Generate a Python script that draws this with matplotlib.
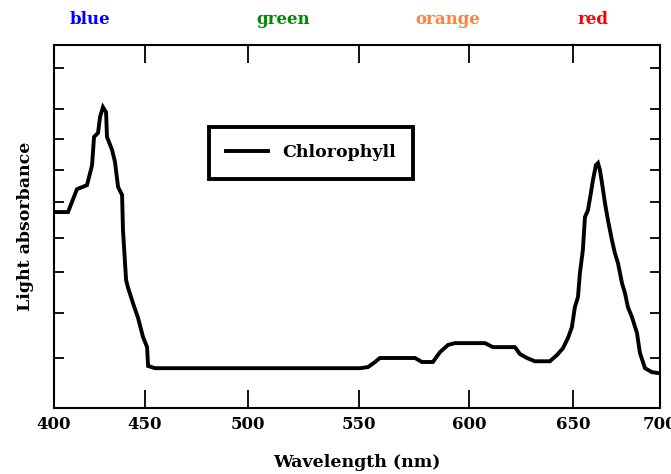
import numpy as np
import matplotlib
matplotlib.use('Agg')
import matplotlib.pyplot as plt

# chlorophyll absorption (arbitrary units 0-100)
wavelength = [400, 407.7, 412.6, 418.1, 419.8, 420.9, 422.0, 424.2, 425.3, 426.9,
              428.6, 429.1, 431.9, 433.5, 435.2, 437.4, 437.9, 439.6, 440.7, 443.4,
              446.2, 448.9, 451.0, 451.5, 454.9, 550.5, 554.1, 557.3, 559.5, 575.5,
              578.6, 583.6, 586.8, 590.5, 593.6, 607.7, 611.5, 622.1, 624.5, 627.9,
              631.7, 638.9, 642.3, 645.2, 647.6, 649.5, 651.1, 652.9, 654.0, 655.7,
              656.9, 658.6, 660.3, 661.5, 663.2, 664.4, 665.5, 666.7, 668.4, 670.1,
              672.4, 674.1, 675.9, 678.2, 679.9, 681.6, 683.9, 686.8, 688.5, 691.4,
              695.4, 700]
absorbance = [54.0, 54.0, 60.3, 61.4, 64.7, 66.9, 74.7, 75.8, 80.2, 82.9,
              81.5, 74.7, 71.1, 67.8, 60.9, 58.7, 49.0, 35.3, 33.1, 28.9,
              24.8, 19.6, 16.8, 11.6, 11.0, 11.0, 11.3, 12.7, 13.8, 13.8,
              12.7, 12.7, 15.4, 17.4, 17.9, 17.9, 16.8, 16.8, 14.9, 13.8,
              12.9, 12.9, 14.6, 16.5, 19.3, 22.3, 27.8, 30.6, 37.2, 43.5,
              52.6, 54.5, 59.2, 62.8, 66.9, 67.5, 65.6, 62.0, 56.5, 51.8,
              46.3, 42.7, 39.9, 34.4, 31.7, 27.8, 25.1, 20.7, 15.2, 11.0,
              9.9, 9.6]

xticks = [400, 450, 500, 550, 600, 650, 700]
yticks = [13.8, 26.2, 37.5, 46.8, 56.8, 65.6, 74.1, 82.4, 93.7]
colour_names = ['blue', 'green', 'orange', 'red']
colour_values = ['#0000ff', '#008a00', '#ff8040', '#ff0000']
colour_at = [419.8, 515.8, 590.5, 661.5]

# the original axis is not evenly spaced: where each tick sits along it
scale_nm = np.array(xticks, dtype=float)
scale_pos = np.array([0, 91, 194, 305, 415, 519, 606], dtype=float) / 606


def fwd(x):
    return np.interp(x, scale_nm, scale_pos)


def inv(p):
    return np.interp(p, scale_pos, scale_nm)


serif = ['DejaVu Serif']

fig = plt.figure(figsize=(6.71, 4.74), dpi=100)
ax = fig.add_axes([0.0805, 0.139, 0.903, 0.766])
ax.set_xscale('function', functions=(fwd, inv))

ax.plot(wavelength, absorbance, color='black', lw=2.8, label='Chlorophyll',
        solid_joinstyle='miter')

ax.set_xlim(400, 700)
ax.set_ylim(0, 100)
ax.set_xticks(xticks)
ax.set_xticklabels([str(t) for t in xticks], fontfamily=serif,
                   fontweight='bold', fontsize=12)
ax.set_yticks(yticks)
ax.set_yticklabels([])
ax.minorticks_off()
ax.tick_params(axis='x', direction='in', length=13, width=1.3, top=True,
               pad=6, colors='black')
ax.tick_params(axis='y', direction='in', length=7, width=1.3, right=True)
for s in ax.spines.values():
    s.set_linewidth(1.5)

ax.set_xlabel('Wavelength (nm)', fontfamily=serif, fontweight='bold',
              fontsize=12.5, labelpad=15)
ax.set_ylabel('Light absorbance', fontfamily=serif, fontweight='bold',
              fontsize=12.5, labelpad=11)

for name, col, x in zip(colour_names, colour_values, colour_at):
    ax.text(x, 1.069, name, color=col, transform=ax.get_xaxis_transform(),
            ha='center', va='center', fontfamily=serif, fontweight='bold',
            fontsize=12)

leg = ax.legend(loc='upper left', bbox_to_anchor=(0.256, 0.774),
                prop={'family': serif, 'weight': 'bold', 'size': 12.5},
                fancybox=False, edgecolor='black', framealpha=1,
                handlelength=2.4, borderpad=1.0, borderaxespad=0)
leg.get_frame().set_linewidth(2.8)

fig.savefig('out.png', dpi=100)
